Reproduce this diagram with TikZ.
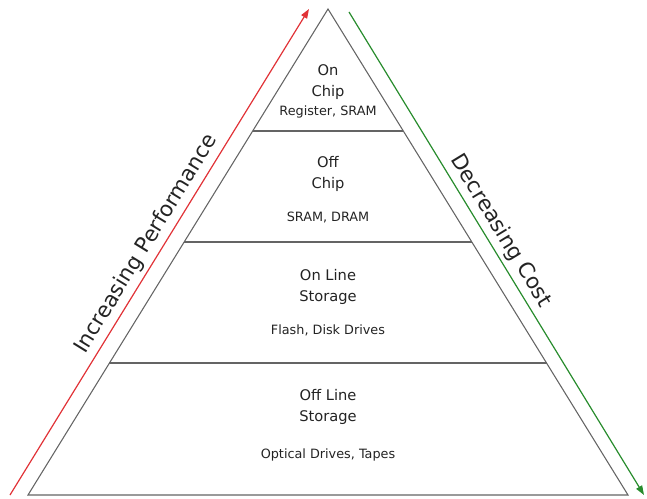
\documentclass[tikz,border=0pt]{standalone}
\usepackage{fontspec}
\setmainfont{DejaVu Sans}
\usetikzlibrary{positioning, arrows.meta, calc}
\definecolor{edgegray}{RGB}{100,100,100}
\definecolor{txtgray}{RGB}{35,35,35}
\definecolor{perfred}{RGB}{225,50,55}
\definecolor{costgreen}{RGB}{40,140,45}
\tikzset{
  tiername/.style={align=center, text=txtgray, inner sep=0pt,
                   font=\fontsize{11}{15.75}\selectfont},
  tiernote/.style={text=txtgray, inner sep=0pt, font=\fontsize{9.6}{12}\selectfont},
  tierline/.style={draw=edgegray, line width=0.8pt},
  trend/.style={-{Triangle[length=7pt, width=5pt]}, line width=0.9pt},
  trendlabel/.style={sloped, text=txtgray, font=\fontsize{16}{18}\selectfont}
}

\begin{document}
\begin{tikzpicture}[x=0.75pt, y=-0.75pt]
  \useasboundingbox (0,0) rectangle (647,499);
  % pyramid
  \coordinate (apex) at (328,9);
  \coordinate (bl) at (28,495);
  \coordinate (br) at (628,495);
  \draw[tierline] (apex) -- (bl) -- (br) -- cycle;
  \foreach \yy/\nm in {131/a, 242/b, 363/c} {
    \pgfmathsetmacro\tierfrac{(\yy-9)/486}
    \coordinate (left\nm) at ($(apex)!\tierfrac!(bl)$);
    \coordinate (right\nm) at ($(apex)!\tierfrac!(br)$);
    \draw[tierline] (left\nm) -- (right\nm);
  }
  % tiers
  \node[tiername] (onchip)  at (328,82)  {On\\Chip};
  \node[tiernote] (onchipx) at (328,112) {Register, SRAM};
  \node[tiername] (offchip)  at (328,174) {Off\\Chip};
  \node[tiernote] (offchipx) at (328,217) {SRAM, DRAM};
  \node[tiername] (online)  at (328,287) {On Line\\Storage};
  \node[tiernote] (onlinex) at (328,330) {Flash, Disk Drives};
  \node[tiername] (offline)  at (328,407) {Off Line\\Storage};
  \node[tiernote] (offlinex) at (328,455) {Optical Drives, Tapes};
  % trends
  \coordinate (perfstart) at (10,495);
  \coordinate (perfend) at (309,9);
  \draw[trend, perfred] (perfstart) -- node[trendlabel, above] {Increasing Performance} (perfend);
  \coordinate (coststart) at (349,12);
  \coordinate (costend) at (644,495);
  \draw[trend, costgreen] (coststart) -- node[trendlabel, above, pos=0.47] {Decreasing Cost} (costend);
\end{tikzpicture}
\end{document}
